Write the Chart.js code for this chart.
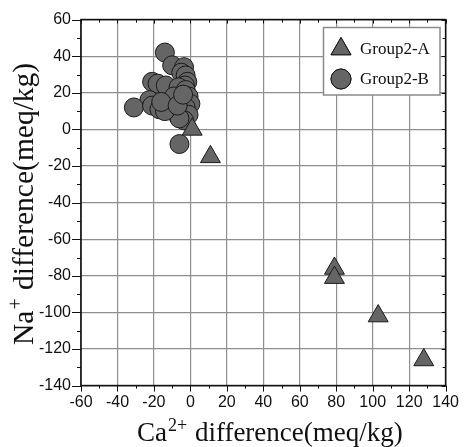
<!DOCTYPE html>
<html><head><meta charset="utf-8">
<script src="https://cdn.jsdelivr.net/npm/chart.js@4.4.0/dist/chart.umd.min.js"></script>
<style>html,body{margin:0;padding:0;background:#fff;}#wrap{width:466px;height:447px;}</style>
</head><body><div id="wrap"><canvas id="c" width="466" height="447"></canvas></div>
<script>
// ---- data ----
const seriesNames = ['Group2-A', 'Group2-B'];
const groupA_x = [1, 11, 79, 79, 103, 128];
const groupA_y = [0, -15, -76, -81, -102, -126];
const groupB_x = [-14, -10, -3.5, -5, -2.6, -1.7, -3, -21, -18, -13.5, -6.5, -2.6, -1, -4.5, -22.5, -31, -21, -17, -11.5, 0, -2.6, -8, -1, -3.5, -6, -14, -9, -16, -7, -4, -6];
const groupB_y = [42, 35, 34, 31, 29.5, 26, 24, 26, 25, 24, 23, 21.5, 18, 16, 16, 12, 13, 11, 14, 14, 12, 9, 8, 5, 6, 10, 18, 15, 13, 19, -8];
const xTickLabels = [-60, -40, -20, 0, 20, 40, 60, 80, 100, 120, 140];
const yTickLabels = [60, 40, 20, 0, -20, -40, -60, -80, -100, -120, -140];
const xTitleParts = ['Ca', '2+', ' difference(meq/kg)'];
const yTitleParts = ['Na', '+', ' difference(meq/kg)'];

const toPts = (xs, ys) => xs.map((x, i) => ({x: x, y: ys[i]}));
const FILL = '#656565', EDGE = '#1a1a1a';

const framePlugin = {
  id: 'frame',
  beforeDatasetsDraw(chart) {
    const {ctx, chartArea: a, scales} = chart;
    const xs = scales.x, ys = scales.y;
    ctx.save();
    ctx.strokeStyle = '#111';
    ctx.lineWidth = 1;
    for (let v = xs.min; v <= xs.max + 1e-9; v += 10) {
      const p = Math.round(xs.getPixelForValue(v)) + 0.5;
      const major = Math.abs(v % 20) < 1e-9;
      ctx.beginPath();
      ctx.moveTo(p, a.bottom); ctx.lineTo(p, a.bottom + (major ? 6 : 3));
      ctx.moveTo(p, a.top); ctx.lineTo(p, a.top + (major ? 4 : 3));
      ctx.stroke();
    }
    for (let v = ys.min; v <= ys.max + 1e-9; v += 10) {
      const p = Math.round(ys.getPixelForValue(v)) + 0.5;
      const major = Math.abs(v % 20) < 1e-9;
      ctx.beginPath();
      ctx.moveTo(a.left - (major ? 9 : 4), p); ctx.lineTo(a.left, p);
      ctx.moveTo(a.right - (major ? 4 : 3), p); ctx.lineTo(a.right, p);
      ctx.stroke();
    }
    ctx.lineWidth = 1.6;
    ctx.strokeRect(a.left, a.top, a.right - a.left, a.bottom - a.top);
    ctx.restore();
  },
  afterDatasetsDraw(chart) {
    const {ctx} = chart;
    ctx.save();
    ctx.fillStyle = '#fff';
    ctx.fillRect(323.5, 27.5, 116.5, 67.5);
    ctx.strokeStyle = '#8a8a8a';
    ctx.lineWidth = 1.5;
    ctx.strokeRect(323.5, 27.5, 116.5, 67.5);
    const ds = chart.data.datasets;
    ctx.fillStyle = FILL; ctx.strokeStyle = EDGE; ctx.lineWidth = 1;
    Chart.helpers.drawPoint(ctx, {pointStyle: ds[0].pointStyle, radius: 11.5, borderWidth: 1}, 341, 49);
    ctx.fill(); ctx.stroke();
    Chart.helpers.drawPoint(ctx, {pointStyle: ds[1].pointStyle, radius: 10, borderWidth: 1}, 341, 79);
    ctx.fill(); ctx.stroke();
    ctx.fillStyle = '#111';
    ctx.font = '17px "Liberation Serif"';
    ctx.textBaseline = 'alphabetic';
    ctx.fillText(ds[0].label, 360, 54);
    ctx.fillText(ds[1].label, 360, 84);
    ctx.restore();
  },
  afterDraw(chart) {
    const {ctx} = chart;
    const drawParts = (parts, x, y, bigSize, smallSize, raise) => {
      const big = bigSize + 'px "Liberation Serif"', small = smallSize + 'px "Liberation Serif"';
      ctx.font = big; ctx.fillText(parts[0], x, y); x += ctx.measureText(parts[0]).width + 1;
      ctx.font = small; ctx.fillText(parts[1], x, y - raise); x += ctx.measureText(parts[1]).width + 1;
      ctx.font = big; ctx.fillText(parts[2], x, y);
    };
    ctx.save();
    ctx.fillStyle = '#111';
    ctx.textBaseline = 'alphabetic';
    drawParts(xTitleParts, 137, 441, 27, 18, 10);
    ctx.translate(33, 345);
    ctx.rotate(-Math.PI / 2);
    drawParts(yTitleParts, 0, 0, 29.5, 20, 11);
    ctx.restore();
  }
};

new Chart(document.getElementById('c'), {
  type: 'scatter',
  data: {
    datasets: [
      {label: seriesNames[0], data: toPts(groupA_x, groupA_y), pointStyle: 'triangle', pointRadius: 11.5,
       backgroundColor: FILL, borderColor: EDGE, borderWidth: 1},
      {label: seriesNames[1], data: toPts(groupB_x, groupB_y), pointStyle: 'circle', pointRadius: 9.5,
       backgroundColor: FILL, borderColor: EDGE, borderWidth: 1}
    ]
  },
  options: {
    responsive: false, animation: false, devicePixelRatio: 1,
    layout: {padding: {top: 17.6, right: 17.5, left: 0, bottom: 0}},
    plugins: {legend: {display: false}, tooltip: {enabled: false}},
    scales: {
      x: {
        type: 'linear', min: xTickLabels[0], max: xTickLabels[xTickLabels.length - 1],
        afterBuildTicks: s => { s.ticks = xTickLabels.map(v => ({value: v})); },
        afterFit: s => { s.height = 61.4; },
        ticks: {autoSkip: false, maxRotation: 0, padding: 7, color: '#111',
                font: {family: '"Liberation Sans", Arial', size: 16}},
        grid: {color: '#8f8f8f', lineWidth: 1.2, drawTicks: false},
        border: {display: false}
      },
      y: {
        type: 'linear', min: yTickLabels[yTickLabels.length - 1], max: yTickLabels[0],
        afterBuildTicks: s => { s.ticks = yTickLabels.slice().reverse().map(v => ({value: v})); },
        afterFit: s => { s.width = 81; },
        ticks: {autoSkip: false, padding: 10, color: '#111',
                font: {family: '"Liberation Sans", Arial', size: 16}},
        grid: {color: '#8f8f8f', lineWidth: 1.2, drawTicks: false},
        border: {display: false}
      }
    }
  },
  plugins: [framePlugin]
});
</script></body></html>
